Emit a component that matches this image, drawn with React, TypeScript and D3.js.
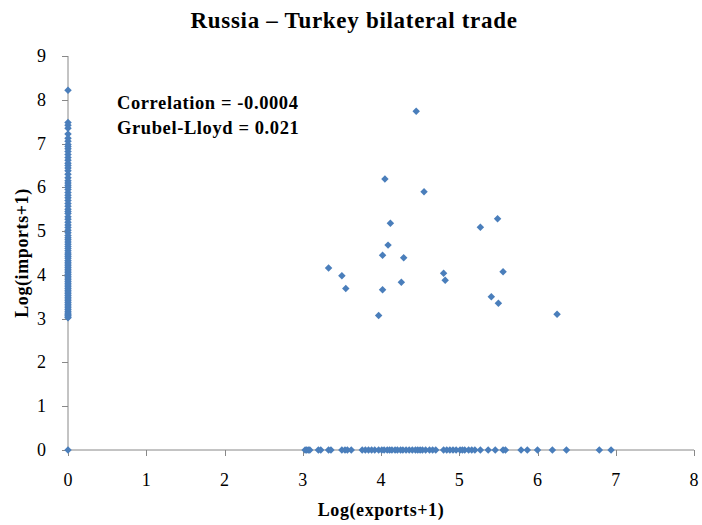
import { useEffect, useRef } from 'react';
import * as d3 from 'd3';

// products only imported (exports = 0)
const importOnly = [
  8.22, 7.48, 7.42, 7.35, 7.22, 7.12, 7.05, 6.98, 6.93, 6.88, 6.82, 6.75, 6.68,
  6.62, 6.55, 6.5, 6.44, 6.38, 6.3, 6.22, 6.15, 6.1, 6.05, 6.0, 5.95, 5.88,
  5.82, 5.76, 5.7, 5.63, 5.57, 5.5, 5.45, 5.4, 5.33, 5.27, 5.2, 5.14, 5.08,
  5.02, 4.96, 4.9, 4.85, 4.8, 4.75, 4.7, 4.65, 4.6, 4.55, 4.5, 4.46, 4.42,
  4.38, 4.33, 4.29, 4.25, 4.21, 4.17, 4.13, 4.09, 4.05, 4.01, 3.97, 3.93,
  3.89, 3.85, 3.81, 3.77, 3.73, 3.69, 3.65, 3.61, 3.57, 3.53, 3.49, 3.45,
  3.41, 3.37, 3.33, 3.29, 3.25, 3.21, 3.17, 3.13, 3.1, 3.07, 3.04, 3.02,
];

// products only exported (imports = 0)
const exportOnly = [
  3.03, 3.05, 3.07, 3.09, 3.2, 3.23, 3.33, 3.36, 3.5, 3.54, 3.57, 3.62, 3.76,
  3.8, 3.84, 3.88, 3.92, 3.97, 4.01, 4.04, 4.08, 4.11, 4.14, 4.18, 4.21, 4.25,
  4.28, 4.32, 4.36, 4.4, 4.44, 4.47, 4.5, 4.53, 4.57, 4.62, 4.66, 4.7, 4.8,
  4.84, 4.88, 4.92, 4.96, 5.01, 5.04, 5.07, 5.12, 5.16, 5.2, 5.27, 5.37, 5.46,
  5.56, 5.59, 5.79, 5.87, 6.0, 6.19, 6.37, 6.79, 6.94,
];

// two-way traded products
const twoWayExports = [
  4.45, 4.05, 4.55, 4.12, 5.27, 5.49, 4.09, 4.02, 4.29, 3.33, 3.5, 4.8, 5.56,
  3.55, 4.02, 4.26, 4.82, 5.41, 5.5, 3.97, 6.25,
];
const twoWayImports = [
  7.74, 6.19, 5.9, 5.18, 5.09, 5.28, 4.68, 4.45, 4.39, 4.16, 3.98, 4.04, 4.07,
  3.69, 3.66, 3.83, 3.88, 3.5, 3.35, 3.07, 3.1,
];

const xTicks = [0, 1, 2, 3, 4, 5, 6, 7, 8];
const yTicks = [0, 1, 2, 3, 4, 5, 6, 7, 8, 9];

const App = () => {
  const svgRef = useRef<SVGSVGElement>(null);

  useEffect(() => {
    if (!svgRef.current) return;
    const svg = d3.select(svgRef.current);
    svg.selectAll('*').remove();

    const font = '"Liberation Serif", "DejaVu Serif", serif';
    const axisColor = '#888888';
    const markColor = '#4A7EBB';

    const x = d3.scaleLinear().domain([0, 8]).range([68, 694]);
    const y = d3.scaleLinear().domain([0, 9]).range([450, 56]);

    // combine all the points
    const points: [number, number][] = [[0, 0]];
    importOnly.forEach(v => points.push([0, v]));
    exportOnly.forEach(v => points.push([v, 0]));
    twoWayExports.forEach((v, i) => points.push([v, twoWayImports[i]]));

    // axes
    const g = svg.append('g');
    g.append('line')
      .attr('x1', x(0)).attr('x2', x(8))
      .attr('y1', y(0)).attr('y2', y(0))
      .attr('stroke', axisColor);
    g.append('line')
      .attr('x1', x(0)).attr('x2', x(0))
      .attr('y1', y(0)).attr('y2', y(9))
      .attr('stroke', axisColor);

    xTicks.forEach(t => {
      g.append('line')
        .attr('x1', Math.round(x(t)) + 0.5).attr('x2', Math.round(x(t)) + 0.5)
        .attr('y1', y(0)).attr('y2', y(0) + 6)
        .attr('stroke', axisColor);
      g.append('text')
        .attr('x', x(t)).attr('y', 486)
        .attr('text-anchor', 'middle')
        .attr('font-family', font).attr('font-size', 18)
        .text(t);
    });
    yTicks.forEach(t => {
      g.append('line')
        .attr('x1', x(0) - 6).attr('x2', x(0))
        .attr('y1', Math.round(y(t)) + 0.5).attr('y2', Math.round(y(t)) + 0.5)
        .attr('stroke', axisColor);
      g.append('text')
        .attr('x', 46).attr('y', y(t) + 6)
        .attr('text-anchor', 'end')
        .attr('font-family', font).attr('font-size', 18)
        .text(t);
    });

    // markers
    const diamond = d3.symbol().type(d3.symbolSquare).size(28);
    svg.append('g')
      .selectAll('path')
      .data(points)
      .join('path')
      .attr('d', diamond)
      .attr('transform', d => `translate(${x(d[0])},${y(d[1])}) rotate(45)`)
      .attr('fill', markColor);

    // titles
    svg.append('text')
      .attr('x', 354).attr('y', 28)
      .attr('text-anchor', 'middle')
      .attr('font-family', font).attr('font-size', 23).attr('font-weight', 'bold')
      .attr('letter-spacing', 0.7)
      .text('Russia – Turkey bilateral trade');
    svg.append('text')
      .attr('x', 381).attr('y', 516)
      .attr('text-anchor', 'middle')
      .attr('font-family', font).attr('font-size', 18).attr('font-weight', 'bold')
      .attr('letter-spacing', 0.6)
      .text('Log(exports+1)');
    svg.append('text')
      .attr('transform', 'translate(28,253) rotate(-90)')
      .attr('text-anchor', 'middle')
      .attr('font-family', font).attr('font-size', 18).attr('font-weight', 'bold')
      .attr('letter-spacing', 0.6)
      .text('Log(imports+1)');

    // annotation
    svg.append('text')
      .attr('x', 117).attr('y', 109)
      .attr('font-family', font).attr('font-size', 18.5).attr('font-weight', 'bold')
      .attr('letter-spacing', 0.6)
      .text('Correlation = -0.0004');
    svg.append('text')
      .attr('x', 117).attr('y', 134)
      .attr('font-family', font).attr('font-size', 18.5).attr('font-weight', 'bold')
      .attr('letter-spacing', 0.6)
      .text('Grubel-Lloyd = 0.021');
  }, []);

  return (
    <svg
      ref={svgRef}
      width={702}
      height={525}
      style={{ position: 'absolute', left: 0, top: 0, background: '#fff' }}
    />
  );
};

export default App;
